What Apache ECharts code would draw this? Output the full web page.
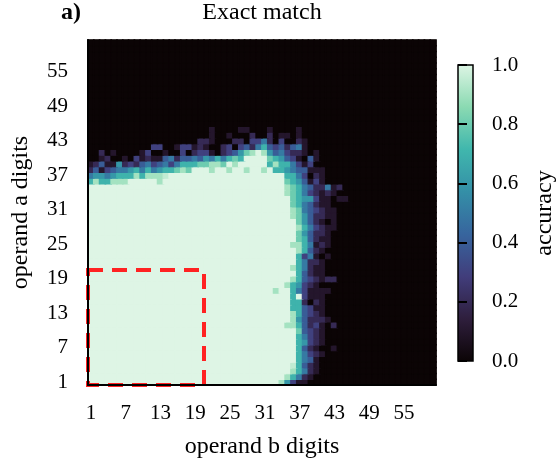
<!DOCTYPE html>
<html>
<head>
<meta charset="utf-8">
<script src="https://cdn.jsdelivr.net/npm/echarts@6/dist/echarts.min.js"></script>
<style>html,body{margin:0;padding:0;background:#fff}#c{width:558px;height:459px}</style>
</head>
<body>
<div id="c"></div>
<script>
// ---- data ----
const xCategories = ['1','2','3','4','5','6','7','8','9','10','11','12','13','14','15','16','17','18','19','20','21','22','23','24','25','26','27','28','29','30','31','32','33','34','35','36','37','38','39','40','41','42','43','44','45','46','47','48','49','50','51','52','53','54','55','56','57','58','59','60'];
const yCategories = xCategories.slice();
const xTickLabels = ['1','7','13','19','25','31','37','43','49','55'];
const yTickLabels = ['1','7','13','19','25','31','37','43','49','55'];
const colorbarTicks = [0, 0.2, 0.4, 0.6, 0.8, 1.0];
// accuracy level per cell: '0'..'9' = 0.0..0.9, 'a' = 0.95, 'b' = 1.0 ; row 1 (operand a = 1) first; missing tail = 0
const levelTable = {'0':0,'1':0.1,'2':0.2,'3':0.3,'4':0.4,'5':0.5,'6':0.6,'7':0.7,'8':0.8,'9':0.9,'a':0.95,'b':1.0};
const accuracyRows = [
"bbbbbbbbbb bbbbbbbbbb bbbbbbbbbb bbb963110",
"bbbbbbbbbb bbbbbbbbbb bbbbbbbbbb bbbb975210",
"bbbbbbbbbb bbbbbbbbbb bbbbbbbbbb bbbbb97521",
"bbbbbbbbbb bbbbbbbbbb bbbbbbbbbb bbbbba7421",
"bbbbbbbbbb bbbbbbbbbb bbbbbbbbbb bbbbbb7541",
"bbbbbbbbbb bbbbbbbbbb bbbbbbbbbb bbbbbb7532 1",
"bbbbbbbbbb bbbbbbbbbb bbbbbbbbbb bbbbbb7421 001",
"bbbbbbbbbb bbbbbbbbbb bbbbbbbbbb bbbbbb7632 1",
"bbbbbbbbbb bbbbbbbbbb bbbbbbbbbb bbbbbb7532 1",
"bbbbbbbbbb bbbbbbbbbb bbbbbbbbbb bbbbbb8432 1",
"bbbbbbbbbb bbbbbbbbbb bbbbbbbbbb bbbb997423 102",
"bbbbbbbbbb bbbbbbbbbb bbbbbbbbbb bbbbb96422 21",
"bbbbbbbbbb bbbbbbbbbb bbbbbbbbbb bbbbb97432 1",
"bbbbbbbbbb bbbbbbbbbb bbbbbbbbbb bbbbb77431 1",
"bbbbbbbbbb bbbbbbbbbb bbbbbbbbbb bbbbb77202 1",
"bbbbbbbbbb bbbbbbbbbb bbbbbbbbbb bbbbb7b311 1",
"bbbbbbbbbb bbbbbbbbbb bbbbbbbbbb bb9bb75311 11",
"bbbbbbbbbb bbbbbbbbbb bbbbbbbbbb bbbb976321",
"bbbbbbbbbb bbbbbbbbbb bbbbbbbbbb bbbbb97432 122",
"bbbbbbbbbb bbbbbbbbbb bbbbbbbbbb bbbbbb7421 1",
"bbbbbbbbbb bbbbbbbbbb bbbbbbbbbb bbbbb97521 1",
"bbbbbbbbbb bbbbbbbbbb bbbbbbbbbb bbbbbb7522 1",
"bbbbbbbbbb bbbbbbbbbb bbbbbbbbbb bbbbbb7351 01",
"bbbbbbbbbb bbbbbbbbbb bbbbbbbbbb bbbbbb9742 1",
"bbbbbbbbbb bbbbbbbbbb bbbbbbbbbb bbbbb99751 21",
"bbbbbbbbbb bbbbbbbbbb bbbbbbbbbb bbbbbb8742 11",
"bbbbbbbbbb bbbbbbbbbb bbbbbbbbbb bbbbbb8642 21",
"bbbbbbbbbb bbbbbbbbbb bbbbbbbbbb bbbbbb9753 211",
"bbbbbbbbbb bbbbbbbbbb bbbbbbbbbb bbbbbb8642 101",
"bbbbbbbbbb bbbbbbbbbb bbbbbbbbbb bbbbb98642 211",
"bbbbbbbbbb bbbbbbbbbb bbbbbbbbbb bbbbb98543 211",
"bbbbbbbbbb bbbbbbbbbb bbbbbbbbbb bbbbb87542 11",
"bbbbbbbbbb bbbbbbbbbb bbbbbbbbbb bbbbb87663 11011",
"bbbbbbbbbb bbbbbbbbbb bbbbbbbbbb bbbb987532 121",
"bbbbbbbbbb bbbbbbbbbb bbbbbbbbbb bbbb987542 2512",
"7977999bbb bb9bbbbbbb bbbbbbbbbb bbbb876413 1",
"5665677797 999abbbbbb bbbbbbbbbb bbbb775302 1",
"2413455675 75677898bb b9bb9bb9bb 9b77654411 1",
"1241162324 5345357778 8998b9bbbb b797753130",
"0012001031 2114524454 6575787bbb b876431041",
"0020100001 3001003023 310234689b 9645322101",
"0000000000 0330013312 1002303425 7434245100",
"0000000000 0000000002 2100022033 5203002100",
"0000000000 0000000000 0100100020 0201101000",
"0000000000 0000000000 0100001100 0100001000",
"","","","","","","","","","","","","","",""
];
const highlightBox = [['1', '1', '20', '20']]; // operand b from..to, operand a from..to
// mako colormap stops (evenly spaced 0..1)
const makoColors = ['#0B0405','#2E1E3C','#413D7B','#37659E','#348FA7','#40B7AD','#8BDAB2','#DEF5E5'];

// ---- build heatmap table ----
const heatData = [];
accuracyRows.forEach(function (s, r) {
  const t = s.replace(/ /g, '').padEnd(xCategories.length, '0');
  for (let c = 0; c < xCategories.length; c++) {
    const v = levelTable[t[c]];
    // border in the same colormap colour hides anti-aliasing seams between cells
    heatData.push({value: [c, r, v],
                   itemStyle: {borderColor: echarts.color.lerp(v, makoColors), borderWidth: 1.2}});
  }
});

const FONT = 'Liberation Serif';
const chart = echarts.init(document.getElementById('c'), null, {renderer: 'canvas'});

const gridL = 88, gridT = 40, gridW = 348, gridH = 345;
const cbL = 458, cbT = 65, cbW = 15, cbH = 296;

const option = {
  animation: false,
  backgroundColor: '#ffffff',
  textStyle: {fontFamily: FONT, color: '#000'},
  title: [
    {text: 'Exact match', left: 262, top: 1, textAlign: 'center', padding: 0,
     textStyle: {fontFamily: FONT, fontSize: 24, fontWeight: 'normal', color: '#000'}},
    {text: 'a)', left: 61, top: 1, padding: 0,
     textStyle: {fontFamily: FONT, fontSize: 24, fontWeight: 'bold', color: '#000'}}
  ],
  grid: [
    {left: gridL, top: gridT, width: gridW, height: gridH, outerBoundsMode: 'none', containLabel: false,
     show: true, backgroundColor: makoColors[0], borderWidth: 0},
    {left: cbL, top: cbT, width: cbW, height: cbH, outerBoundsMode: 'none', containLabel: false}
  ],
  xAxis: [
    {type: 'category', gridIndex: 0, data: xCategories, z: 10,
     axisLine: {lineStyle: {color: '#000', width: 2}},
     axisTick: {alignWithLabel: true, length: 9, lineStyle: {color: '#000', width: 2},
                interval: function (i, v) { return xTickLabels.indexOf(v) >= 0; }},
     axisLabel: {fontFamily: FONT, fontSize: 21, color: '#000', margin: 18,
                 interval: function (i, v) { return xTickLabels.indexOf(v) >= 0; }},
     splitLine: {show: false}, splitArea: {show: false},
     name: 'operand b digits', nameLocation: 'middle', nameGap: 50,
     nameTextStyle: {fontFamily: FONT, fontSize: 24, color: '#000'}},
    {type: 'value', gridIndex: 1, show: false, min: 0, max: 1}
  ],
  yAxis: [
    {type: 'category', gridIndex: 0, data: yCategories, z: 10,
     axisLine: {lineStyle: {color: '#000', width: 2}},
     axisTick: {alignWithLabel: true, length: 9, lineStyle: {color: '#000', width: 2},
                interval: function (i, v) { return yTickLabels.indexOf(v) >= 0; }},
     axisLabel: {fontFamily: FONT, fontSize: 21, color: '#000', margin: 20,
                 interval: function (i, v) { return yTickLabels.indexOf(v) >= 0; }},
     splitLine: {show: false}, splitArea: {show: false},
     name: 'operand a digits', nameLocation: 'middle', nameGap: 55, nameRotate: 90,
     nameTextStyle: {fontFamily: FONT, fontSize: 24, color: '#000'}},
    {type: 'value', gridIndex: 1, position: 'right', min: 0, max: 1, interval: 0.2, z: 10,
     axisLine: {show: false},
     axisTick: {show: true, length: 9, lineStyle: {color: '#000', width: 2}},
     axisLabel: {fontFamily: FONT, fontSize: 21, color: '#000', margin: 19,
                 formatter: function (v) {
                   const k = colorbarTicks.findIndex(function (t) { return Math.abs(t - v) < 1e-6; });
                   return k >= 0 ? colorbarTicks[k].toFixed(1) : '';
                 }},
     splitLine: {show: false},
     name: 'accuracy', nameLocation: 'middle', nameGap: 60, nameRotate: 90,
     nameTextStyle: {fontFamily: FONT, fontSize: 24, color: '#000'}}
  ],
  visualMap: {
    show: false, type: 'continuous', min: 0, max: 1, seriesIndex: 0,
    inRange: {color: makoColors}
  },
  graphic: [
    {type: 'rect', z: 5, shape: {x: cbL, y: cbT, width: cbW, height: cbH},
     style: {
       fill: new echarts.graphic.LinearGradient(0, 1, 0, 0,
         makoColors.map(function (c, i) { return {offset: i / (makoColors.length - 1), color: c}; })),
       stroke: '#000', lineWidth: 1.5
     }}
  ],
  series: [
    {type: 'heatmap', xAxisIndex: 0, yAxisIndex: 0, data: heatData, progressive: 0,
     emphasis: {disabled: true}},
    {type: 'custom', xAxisIndex: 0, yAxisIndex: 0, data: highlightBox, z: 5, clip: false,
     encode: {x: [0, 2], y: [1, 3]},
     renderItem: function (params, api) {
       const x0 = xCategories.indexOf(highlightBox[params.dataIndex][0]);
       const y0 = yCategories.indexOf(highlightBox[params.dataIndex][1]);
       const x1 = xCategories.indexOf(highlightBox[params.dataIndex][2]);
       const y1 = yCategories.indexOf(highlightBox[params.dataIndex][3]);
       const p0 = api.coord([x0, y0]);
       const p1 = api.coord([x1, y1]);
       const sz = api.size([1, 1]);
       return {
         type: 'rect',
         shape: {x: p0[0] - sz[0] / 2, y: p1[1] - sz[1] / 2,
                 width: p1[0] - p0[0] + sz[0], height: p0[1] - p1[1] + sz[1]},
         style: {fill: 'none', stroke: '#ff2222', lineWidth: 4, lineDash: [15, 9]}
       };
     }}
  ]
};
chart.setOption(option);
</script>
</body>
</html>
